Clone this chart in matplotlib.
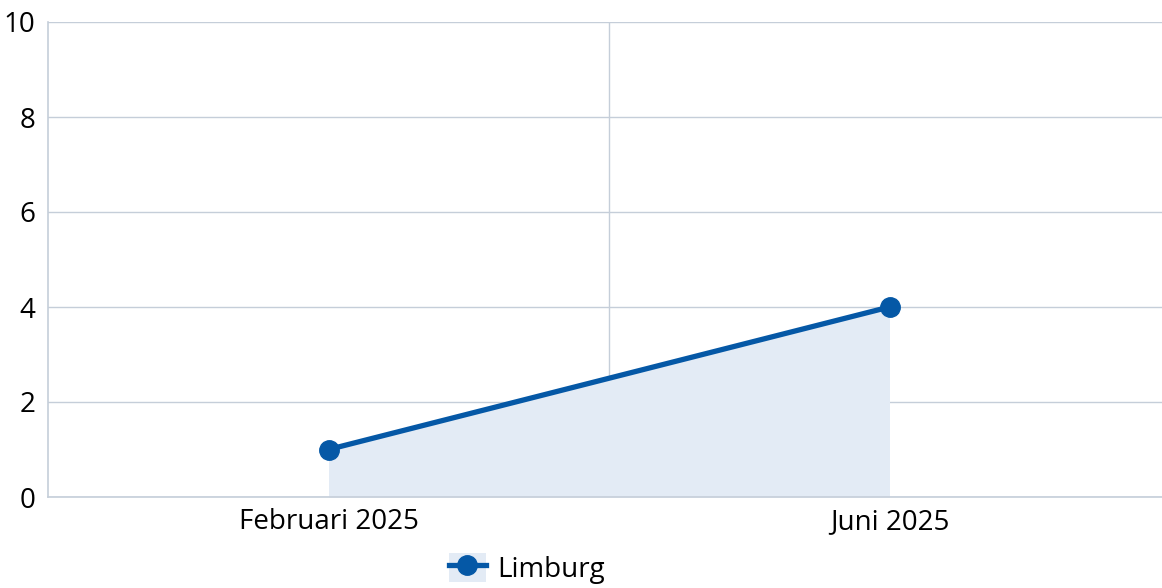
import matplotlib.pyplot as plt
from matplotlib.patches import Patch
from matplotlib.lines import Line2D
from matplotlib.legend_handler import HandlerTuple

plt.rcParams['font.family'] = ['Open Sans', 'DejaVu Sans']

categories = ['Februari 2025', 'Juni 2025']
values = [1, 4]
series_name = 'Limburg'

line_color = '#0558A6'
fill_color = '#E3EBF5'
grid_color = '#C5CED9'

fig = plt.figure(figsize=(11.62, 5.88), dpi=100)
ax = fig.add_axes([48 / 1162, 91 / 588, 1 - 48 / 1162, 475 / 588])

x = list(range(len(categories)))
ax.fill_between(x, 0, values, color=fill_color, linewidth=0, zorder=1)
ax.plot(x, values, color=line_color, linewidth=3.8, marker='o', markersize=14,
        zorder=3, clip_on=False)

ax.set_xlim(-0.5, 1.5 - 8 / 561)
ax.set_ylim(0, 10)
ax.set_yticks(range(0, 11, 2))
ax.set_xticks(x)
ax.set_xticklabels(categories)
ax.set_xticks([0.5], minor=True)

ax.grid(axis='y', which='major', color=grid_color, linewidth=1)
ax.grid(axis='x', which='minor', color=grid_color, linewidth=1)
ax.grid(axis='x', which='major', visible=False)
ax.set_axisbelow(True)

for s in ['top', 'right']:
    ax.spines[s].set_visible(False)
for s in ['left', 'bottom']:
    ax.spines[s].set_color(grid_color)
    ax.spines[s].set_linewidth(1.2)

ax.tick_params(axis='both', which='both', length=0, labelsize=20, colors='black')
ax.tick_params(axis='y', pad=9)
ax.tick_params(axis='x', pad=8)

handle = (Patch(facecolor=fill_color, edgecolor='none'),
          Line2D([], [], color=line_color, linewidth=3.8, marker='o', markersize=14))
fig.legend(handles=[handle], labels=[series_name],
           handler_map={tuple: HandlerTuple(ndivide=1, pad=0)},
           loc='upper left', bbox_to_anchor=(449 / 1162, 35 / 588),
           frameon=False, fontsize=20, borderpad=0, borderaxespad=0,
           handlelength=1.33, handleheight=1.22, handletextpad=0.4)

fig.savefig('out.png', dpi=100)
